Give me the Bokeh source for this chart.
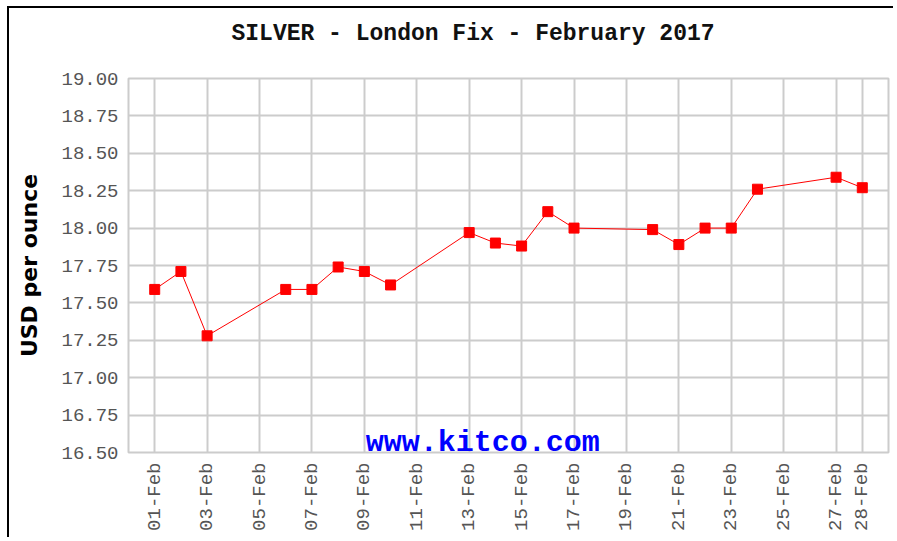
from bokeh.plotting import figure
from bokeh.models import FixedTicker, Label, Title, LinearAxis
from bokeh.embed import file_html
from bokeh.resources import INLINE

# ---- data ----
days = [1, 2, 3, 6, 7, 8, 9, 10, 13, 14, 15, 16, 17, 20, 21, 22, 23, 24, 27, 28]
prices = [17.59, 17.71, 17.28, 17.59, 17.59, 17.74, 17.71, 17.62, 17.97, 17.90,
          17.88, 18.11, 18.00, 17.99, 17.89, 18.00, 18.00, 18.26, 18.34, 18.27]
tick_days = [1, 3, 5, 7, 9, 11, 13, 15, 17, 19, 21, 23, 25, 27, 28]
tick_labels = ["01-Feb", "03-Feb", "05-Feb", "07-Feb", "09-Feb", "11-Feb", "13-Feb",
               "15-Feb", "17-Feb", "19-Feb", "21-Feb", "23-Feb", "25-Feb", "27-Feb", "28-Feb"]
y_ticks = [16.50, 16.75, 17.00, 17.25, 17.50, 17.75, 18.00, 18.25, 18.50, 18.75, 19.00]
y_tick_labels = ["16.50", "16.75", "17.00", "17.25", "17.50", "17.75",
                 "18.00", "18.25", "18.50", "18.75", "19.00"]
title_text = "SILVER - London Fix - February 2017"
y_label = "USD per ounce"
watermark = "www.kitco.com"

GRID = "#cccccc"

p = figure(width=886, height=531, x_range=(0, 29), y_range=(16.5, 19.0),
           output_backend="svg", toolbar_location=None,
           min_border_left=119, min_border_right=7, min_border_top=70, min_border_bottom=87)
p.styles = {"margin-left": "7px", "margin-top": "6px",
            "border-left": "2px solid black", "border-top": "2px solid black"}

# blank spacer axis above the frame, so the title sits higher
spacer = LinearAxis(ticker=FixedTicker(ticks=[tick_days[0]]), axis_line_color=None,
                    major_tick_line_color=None, minor_tick_line_color=None,
                    major_tick_in=0, major_tick_out=0, minor_tick_in=0, minor_tick_out=0,
                    major_label_overrides={tick_days[0]: " "},
                    major_label_text_color="white", major_label_text_font="Liberation Mono",
                    major_label_text_font_size="19px", major_label_standoff=2)
p.add_layout(spacer, "above")

p.title = Title(text=title_text, align="left", offset=103, text_font="Liberation Mono",
                text_font_style="bold", text_font_size="23px", text_color="#111111",
                standoff=10)

p.outline_line_color = GRID
p.outline_line_width = 2
p.background_fill_color = "white"
p.border_fill_color = "white"

# axes
xa = p.below[0]
ya = p.left[0]
xa.ticker = FixedTicker(ticks=tick_days)
xa.major_label_overrides = {d: l for d, l in zip(tick_days, tick_labels)}
ya.ticker = FixedTicker(ticks=y_ticks)
ya.major_label_overrides = {v: l for v, l in zip(y_ticks, y_tick_labels)}
for ax in (xa, ya):
    ax.axis_line_color = None
    ax.major_tick_line_color = None
    ax.minor_tick_line_color = None
    ax.major_tick_in = 0
    ax.major_tick_out = 0
    ax.minor_tick_in = 0
    ax.minor_tick_out = 0
    ax.major_label_text_font = "Liberation Mono"
    ax.major_label_text_font_size = "19px"
    ax.major_label_text_color = "#555555"
    ax.major_label_standoff = 10
xa.major_label_orientation = 1.5707963
ya.axis_label = y_label
ya.axis_label_text_font = "DejaVu Sans"
ya.axis_label_text_font_style = "bold"
ya.axis_label_text_font_size = "22px"
ya.axis_label_text_color = "black"
ya.axis_label_standoff = 16

p.xgrid.ticker = FixedTicker(ticks=tick_days)
p.ygrid.ticker = FixedTicker(ticks=y_ticks)
for g in (p.xgrid[0], p.ygrid[0]):
    g.grid_line_color = GRID
    g.grid_line_width = 2

# watermark
p.add_layout(Label(x=9.05, y=16.562, text=watermark, text_font="Liberation Mono",
                   text_font_style="bold", text_font_size="30px", text_color="#0000ff",
                   text_baseline="alphabetic"))

# series
p.line(days, prices, line_color="red", line_width=1)
p.scatter(days, prices, marker="square", size=10, fill_color="red", line_color="red")

open("out.html", "w").write(file_html(p, INLINE))
